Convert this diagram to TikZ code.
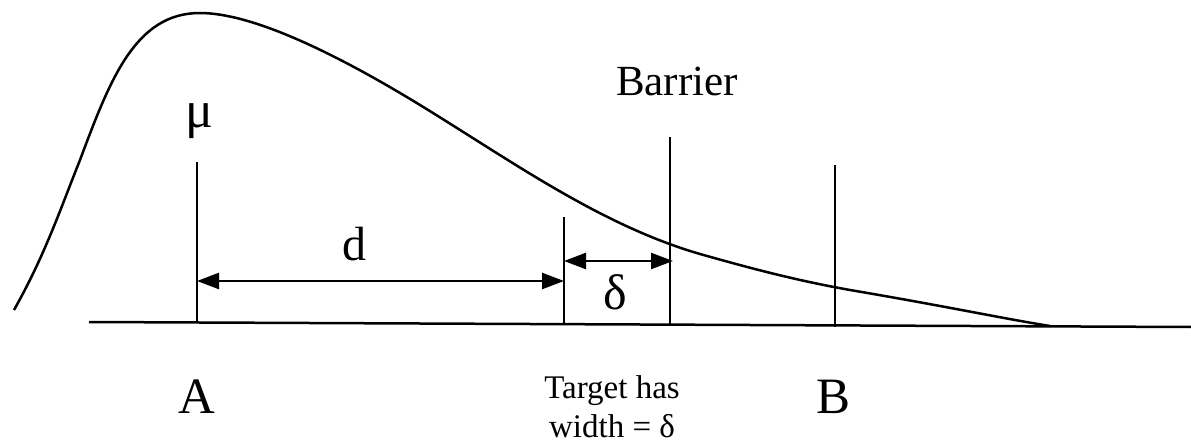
\documentclass[tikz,border=0pt]{standalone}
\usepackage{fontspec}
\setmainfont{Liberation Serif}
\usetikzlibrary{arrows.meta}
\begin{document}
\begin{tikzpicture}[x=1pt,y=-1pt,
  ln/.style={line width=2.5pt,black},
  dim/.style={line width=2.5pt,{Triangle[length=22pt,width=16pt]}-{Triangle[length=22pt,width=16pt]}},
  lbl/.style={inner sep=0pt,anchor=base},
  big/.style={font=\fontsize{51}{55}\selectfont},
  letter/.style={font=\fontsize{48}{52}\selectfont},
  greek/.style={font=\fontsize{52}{56}\selectfont},
  small/.style={font=\fontsize{33}{37}\selectfont,align=center}]
\useasboundingbox (0,0) rectangle (1191,446);
% baseline
\coordinate (L) at (89,322);
\coordinate (R) at (1191,327);
\draw[ln] (L) -- (R);
% distribution curve
\draw[ln] (14,310) .. controls (45,255) and (60,210) .. (80,160)
  .. controls (110,80) and (135,13) .. (200,13)
  .. controls (250,13) and (330,50) .. (420,105)
  .. controls (510,160) and (600,225) .. (700,254)
  .. controls (760,271) and (800,281) .. (850,290)
  .. controls (950,307) and (1000,318) .. (1050,326);
% vertical markers
\coordinate (muT) at (197,162); \coordinate (muB) at (197,322);
\coordinate (tT) at (564,217); \coordinate (tB) at (564,324);
\coordinate (bT) at (670,137); \coordinate (bB) at (670,325);
\coordinate (BT) at (835,165); \coordinate (BB) at (835,327);
\draw[ln] (muT) -- (muB);
\draw[ln] (tT) -- (tB);
\draw[ln] (bT) -- (bB);
\draw[ln] (BT) -- (BB);
% dimension arrows
\coordinate (d1) at (197,281); \coordinate (d2) at (564,281);
\coordinate (e1) at (564,261); \coordinate (e2) at (673,261);
\draw[dim] (d1) -- (d2);
\draw[dim] (e1) -- (e2);
% labels
\node[lbl,greek] (mu) at (199,128) {μ};
\node[lbl,font=\fontsize{43}{47}\selectfont] (barrier) at (677,96) {Barrier};
\node[lbl,letter] (dl) at (354,261) {d};
\node[lbl,greek,font=\fontsize{50}{54}\selectfont] (delta) at (615,309) {δ};
\node[lbl,big] (A) at (197,413) {A};
\node[lbl,big] (B) at (833,413) {B};
\node[lbl,small] (target) at (612,398) {Target has};
\node[lbl,small] (width) at (612,437) {width = δ};
\end{tikzpicture}
\end{document}
